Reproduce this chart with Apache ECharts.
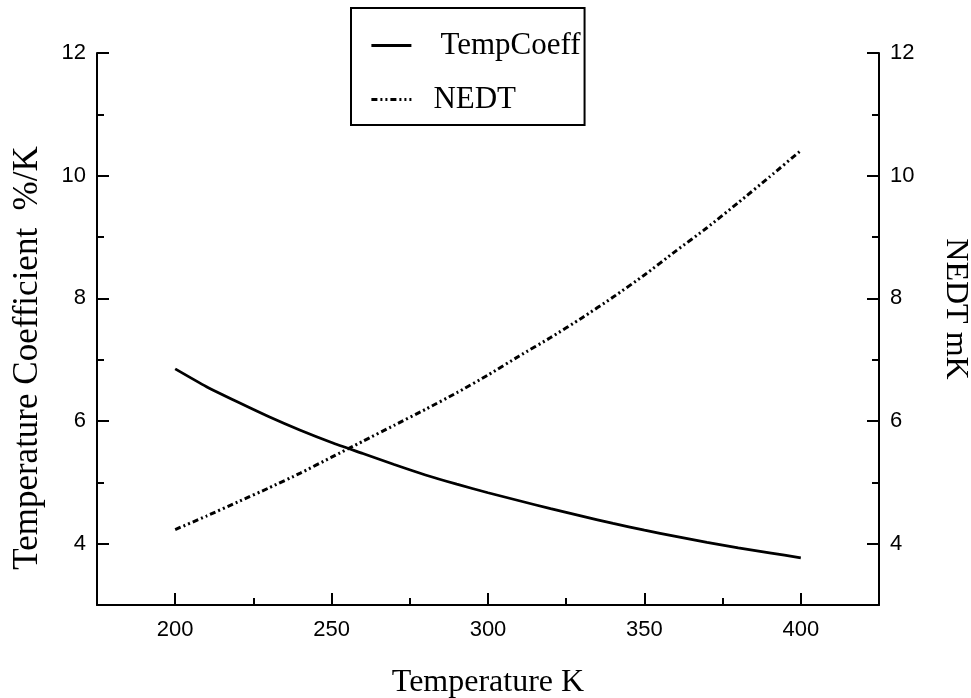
<!DOCTYPE html>
<html>
<head>
<meta charset="utf-8">
<title>Temperature Coefficient and NEDT</title>
<script src="https://cdn.jsdelivr.net/npm/echarts@6/dist/echarts.min.js"></script>
<style>
  html, body { margin: 0; padding: 0; background: #fff; overflow: hidden; }
  #chart { width: 971px; height: 698px; }
</style>
</head>
<body>
<div id="chart"></div>
<script>
// Temperature (K)
const temps = [200, 210, 220, 230, 240, 250, 260, 270, 280, 290, 300,
               310, 320, 330, 340, 350, 360, 370, 380, 390, 400];
// Temperature coefficient (%/K), left axis
const tempCoeff = [6.85, 6.56, 6.31, 6.07, 5.85, 5.65, 5.47, 5.29, 5.12, 4.97, 4.83,
                   4.70, 4.57, 4.45, 4.33, 4.22, 4.12, 4.02, 3.93, 3.85, 3.77];
// Noise-equivalent temperature difference (mK), right axis
const nedt = [4.23, 4.45, 4.68, 4.91, 5.15, 5.41, 5.67, 5.93, 6.19, 6.46, 6.75,
              7.06, 7.36, 7.68, 8.02, 8.38, 8.77, 9.15, 9.56, 9.98, 10.41];

// Axis ticks and labels
const xMajor = [200, 250, 300, 350, 400];
const xMinor = [225, 275, 325, 375];
const yMajor = [4, 6, 8, 10, 12];
const yMinor = [5, 7, 9, 11];

const sansFont = '"Liberation Sans", Arial, sans-serif';
const serifFont = '"Liberation Serif", "Times New Roman", serif';

const lineBlack = { color: '#000', width: 2 };
const tickLabel = { color: '#000', fontFamily: sansFont, fontSize: 22 };
const titleText = { color: '#000', fontFamily: serifFont, fontSize: 32 };

function xAxisDef(ticks, length, withLabels) {
  return {
    type: 'value', position: 'bottom', min: 175, max: 425,
    axisLine: { show: withLabels, lineStyle: lineBlack },
    axisTick: { show: true, inside: true, length: length, customValues: ticks, lineStyle: lineBlack },
    axisLabel: withLabels ? Object.assign({ show: true, margin: 14, customValues: xMajor }, tickLabel) : { show: false },
    splitLine: { show: false }
  };
}

function yAxisDef(pos, ticks, length, withLabels) {
  return {
    type: 'value', position: pos, min: 3, max: 12,
    axisLine: { show: withLabels, lineStyle: lineBlack },
    axisTick: { show: true, inside: true, length: length, customValues: ticks, lineStyle: lineBlack },
    axisLabel: withLabels ? Object.assign({ show: true, margin: 11, customValues: yMajor }, tickLabel) : { show: false },
    splitLine: { show: false }
  };
}

const xMain = xAxisDef(xMajor, 12, true);
xMain.name = 'Temperature K';
xMain.nameLocation = 'middle';
xMain.nameGap = 62;
xMain.nameTextStyle = titleText;

const yLeft = yAxisDef('left', yMajor, 12, true);
yLeft.name = 'Temperature Coefficient  %/K';
yLeft.nameLocation = 'middle';
yLeft.nameGap = 52;
yLeft.nameTextStyle = Object.assign({}, titleText, { fontSize: 35, padding: [0, 58, 0, 0] });

const yRight = yAxisDef('right', yMajor, 12, true);
yRight.name = 'NEDT mK';
yRight.nameLocation = 'middle';
yRight.nameRotate = -90;
yRight.nameGap = 60;
yRight.nameTextStyle = Object.assign({ padding: [0, 40, 0, 0] }, titleText);

const chart = echarts.init(document.getElementById('chart'), null, { renderer: 'canvas' });
chart.setOption({
  animation: false,
  backgroundColor: '#fff',
  grid: { left: 97, right: 92, top: 53, bottom: 93, containLabel: false, outerBoundsMode: 'none' },
  legend: {
    orient: 'vertical',
    left: 351, top: 8,
    padding: [22, 4, 10, 19],
    itemGap: 23,
    itemWidth: 40, itemHeight: 14,
    borderColor: '#000', borderWidth: 2,
    itemStyle: { opacity: 0 },
    lineStyle: { width: 2.8 },
    textStyle: Object.assign({}, titleText, { fontSize: 31 }),
    data: [
      { name: 'TempCoeff', textStyle: { padding: [0, 0, 0, 24] } },
      { name: 'NEDT', textStyle: { padding: [0, 0, 0, 17] } }
    ]
  },
  xAxis: [xMain, xAxisDef(xMinor, 7, false)],
  yAxis: [yLeft, yAxisDef('left', yMinor, 7, false), yRight, yAxisDef('right', yMinor, 7, false)],
  series: [
    {
      name: 'TempCoeff', type: 'line', xAxisIndex: 0, yAxisIndex: 0,
      data: temps.map((t, i) => [t, tempCoeff[i]]),
      smooth: 0.2, symbol: 'none',
      lineStyle: { color: '#000', width: 2.8, type: 'solid' },
      itemStyle: { color: '#000' }
    },
    {
      name: 'NEDT', type: 'line', xAxisIndex: 0, yAxisIndex: 2,
      data: temps.map((t, i) => [t, nedt[i]]),
      smooth: 0.2, symbol: 'none',
      lineStyle: { color: '#000', width: 3, type: [6, 3, 2, 3, 2, 3] },
      itemStyle: { color: '#000' }
    }
  ]
});
</script>
</body>
</html>
